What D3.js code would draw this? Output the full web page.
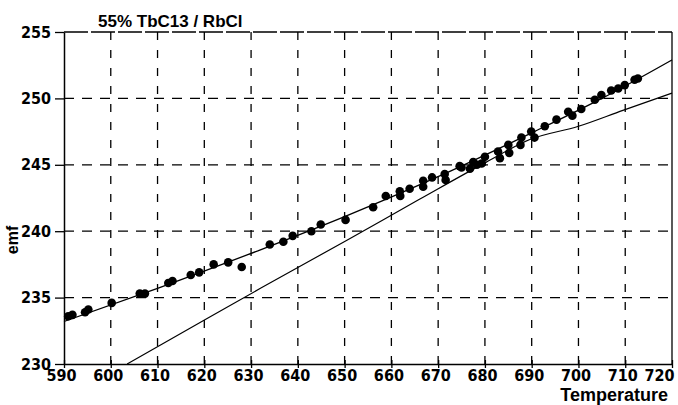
<!DOCTYPE html>
<html>
<head>
<meta charset="utf-8">
<script src="https://cdn.jsdelivr.net/npm/d3@7"></script>
<style>
  body { margin: 0; background: #fff; }
  svg { display: block; }
</style>
</head>
<body>
<svg id="chart" width="678" height="405"></svg>
<script>
var margin = {top: 32, right: 6, bottom: 41, left: 64};
var size = {width: 678, height: 405};

// measured points
var temps = [590.9, 591.8, 594.5, 595.2, 600.2, 606.2, 607.3, 612.3, 613.2, 617.1,
  618.9, 622.0, 625.1, 628.0, 634.0, 636.9, 638.9, 642.9, 644.9, 650.2,
  656.1, 658.8, 661.8, 661.9, 663.9, 666.8, 666.8, 668.7, 671.4, 671.6,
  674.6, 675.0, 676.8, 677.5, 678.3, 679.3, 680.0, 682.8, 683.2, 685.0,
  685.2, 687.8, 687.6, 689.9, 690.6, 692.8, 695.3, 697.8, 698.7, 700.6,
  703.5, 704.9, 707.0, 708.5, 709.9, 712.0, 712.7];
var emf = [233.6, 233.7, 233.9, 234.1, 234.6, 235.3, 235.3, 236.1, 236.25, 236.7,
  236.9, 237.5, 237.65, 237.3, 239.0, 239.2, 239.65, 240.0, 240.5, 240.85,
  241.8, 242.65, 243.0, 242.65, 243.2, 243.8, 243.35, 244.05, 244.3, 243.85,
  244.9, 244.8, 244.7, 245.2, 245.0, 245.1, 245.6, 246.0, 245.5, 246.5,
  245.9, 247.05, 246.5, 247.5, 247.05, 247.9, 248.4, 249.0, 248.7, 249.2,
  249.9, 250.25, 250.6, 250.75, 251.0, 251.4, 251.5];

// fitted curve through the data
var fitT = [590, 610, 632, 650, 672.5, 690, 705, 720];
var fitE = [233.2, 235.7, 238.6, 241.1, 244.5, 247.4, 250.0, 252.9];

// second (reference) curve
var refT = [603.5, 620.5, 632, 650.4, 666, 680.3, 689.6, 700, 709.5, 720];
var refE = [230, 233.4, 235.7, 239.3, 242.4, 245.2, 246.9, 247.9, 249.1, 250.4];

var xTicks = [590, 600, 610, 620, 630, 640, 650, 660, 670, 680, 690, 700, 710, 720];
var yTicks = [230, 235, 240, 245, 250, 255];

var title = "55% TbC13 / RbCl";
var xLabel = "Temperature";
var yLabel = "emf";

var svg = d3.select('#chart');
var x = d3.scaleLinear().domain([590, 720]).range([margin.left, size.width - margin.right]);
var y = d3.scaleLinear().domain([230, 255]).range([size.height - margin.bottom, margin.top]);

var labelFont = "'DejaVu Sans Condensed', 'Liberation Sans', sans-serif";
var textFont = "'Liberation Sans', Arial, sans-serif";

// grid
svg.append('g').selectAll('line')
  .data(xTicks.slice(1, -1))
  .enter().append('line')
  .attr('x1', d => x(d)).attr('x2', d => x(d))
  .attr('y1', y(255)).attr('y2', y(230))
  .attr('stroke', '#000').attr('stroke-width', 1.3)
  .attr('stroke-dasharray', '8,10');

svg.append('g').selectAll('line')
  .data(yTicks.slice(1, -1))
  .enter().append('line')
  .attr('x1', x(590)).attr('x2', x(720))
  .attr('y1', d => y(d)).attr('y2', d => y(d))
  .attr('stroke', '#000').attr('stroke-width', 1.3)
  .attr('stroke-dasharray', '10,8');

// frame: dashed top, solid right
svg.append('line')
  .attr('x1', x(590)).attr('x2', x(720)).attr('y1', y(255)).attr('y2', y(255))
  .attr('stroke', '#000').attr('stroke-width', 1.3).attr('stroke-dasharray', '24,3');
svg.append('line')
  .attr('x1', x(720)).attr('x2', x(720)).attr('y1', y(255)).attr('y2', y(230))
  .attr('stroke', '#000').attr('stroke-width', 1.3);

// axes
var xAxis = svg.append('g')
  .attr('transform', 'translate(0,' + y(230) + ')')
  .call(d3.axisBottom(x).tickValues(xTicks).tickSize(4).tickSizeOuter(0).tickFormat(d3.format('d')));
var yAxis = svg.append('g')
  .attr('transform', 'translate(' + x(590) + ',0)')
  .call(d3.axisLeft(y).tickValues(yTicks).tickSize(9).tickSizeOuter(0).tickFormat(d3.format('d')));

[xAxis, yAxis].forEach(function(a) {
  a.select('.domain').attr('stroke-width', 1.5);
  a.selectAll('.tick line').attr('stroke-width', 1.3);
});
xAxis.selectAll('.tick line').attr('y1', -4);

xAxis.selectAll('.tick text')
  .attr('font-family', labelFont).attr('font-weight', 'bold').attr('font-size', 16)
  .attr('fill', '#000').attr('text-anchor', 'middle').attr('x', -3).attr('y', 6);
// last label sits against the right edge
xAxis.selectAll('.tick text').filter(d => d === 720)
  .attr('text-anchor', 'end').attr('x', 2);
yAxis.selectAll('.tick text')
  .attr('font-family', labelFont).attr('font-weight', 'bold').attr('font-size', 16)
  .attr('fill', '#000').attr('x', -13);

// curves
var line = d3.line().x(d => x(d[0])).y(d => y(d[1])).curve(d3.curveMonotoneX);
svg.append('path')
  .datum(d3.zip(fitT, fitE))
  .attr('d', line).attr('fill', 'none').attr('stroke', '#000').attr('stroke-width', 1.3);
svg.append('path')
  .datum(d3.zip(refT, refE))
  .attr('d', line).attr('fill', 'none').attr('stroke', '#000').attr('stroke-width', 1.2);

// points
svg.append('g').selectAll('circle')
  .data(d3.zip(temps, emf))
  .enter().append('circle')
  .attr('cx', d => x(d[0])).attr('cy', d => y(d[1]))
  .attr('r', 4.3).attr('fill', '#000');

// texts
svg.append('text')
  .attr('x', 98).attr('y', 27)
  .attr('font-family', textFont)
  .attr('font-weight', 'bold').attr('font-size', 17)
  .text(title);

svg.append('text')
  .attr('x', 668).attr('y', 401).attr('text-anchor', 'end')
  .attr('font-family', textFont)
  .attr('font-weight', 'bold').attr('font-size', 18)
  .text(xLabel);

svg.append('text')
  .attr('transform', 'translate(18,240) rotate(-90)')
  .attr('text-anchor', 'middle')
  .attr('font-family', textFont)
  .attr('font-weight', 'bold').attr('font-size', 16)
  .text(yLabel);
</script>
</body>
</html>
